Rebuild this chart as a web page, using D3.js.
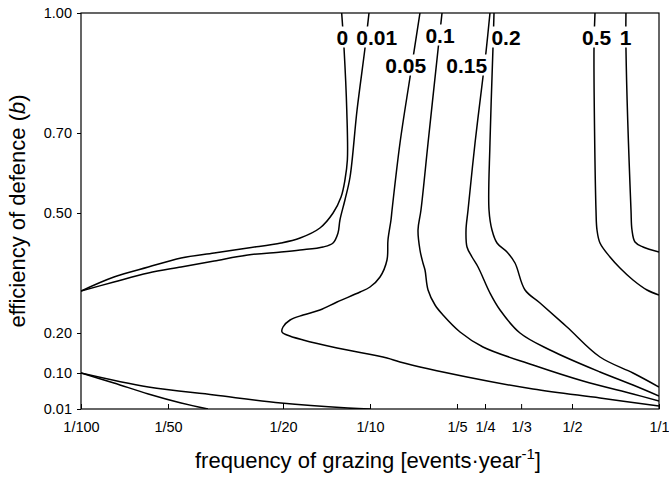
<!DOCTYPE html>
<html><head><meta charset="utf-8">
<script src="https://cdn.jsdelivr.net/npm/d3@7"></script>
<style>
html,body{margin:0;padding:0;background:#fff;}
svg{display:block;font-family:"Liberation Sans",Arial,sans-serif;}
</style></head>
<body><svg id="chart" width="669" height="483"></svg>
<script>
// ---- data (frequency of grazing, efficiency of defence b) ----
const contour_0 = [[0.0798,1.0],[0.0813,0.9125],[0.0831,0.7575],[0.0835,0.6325],[0.0819,0.5825],[0.0794,0.54],[0.0745,0.50],[0.0671,0.4625],[0.0573,0.4375],[0.0492,0.425],[0.0378,0.4125],[0.0289,0.40],[0.0222,0.3875],[0.0171,0.365],[0.0130,0.34],[0.0100,0.305]];
const contour_0_low = [[0.0100,0.10],[0.0130,0.075],[0.0171,0.0475],[0.0222,0.025],[0.0275,0.01]];
const contour_0_01 = [[0.0992,1.0],[0.0961,0.9125],[0.0902,0.7575],[0.0853,0.59],[0.0819,0.5325],[0.0787,0.4825],[0.0775,0.45],[0.0745,0.425],[0.0688,0.415],[0.0573,0.4075],[0.0492,0.4025],[0.0378,0.395],[0.0289,0.38],[0.0222,0.365],[0.0171,0.35],[0.0130,0.3275],[0.0100,0.305]];
const contour_0_01_low = [[0.0100,0.10],[0.0171,0.065],[0.0289,0.045],[0.0492,0.025],[0.0839,0.0125],[0.1000,0.01]];
const contour_0_05 = [[0.1489,1.0],[0.1376,0.84],[0.1270,0.675],[0.1192,0.5075],[0.1182,0.4825],[0.1154,0.4325],[0.1145,0.3825],[0.1083,0.34],[0.1000,0.315],[0.0924,0.3025],[0.0769,0.2775],[0.0671,0.2575],[0.0587,0.245],[0.0529,0.2325],[0.0500,0.215],[0.0496,0.2025],[0.0516,0.195],[0.0587,0.1825],[0.0769,0.1625],[0.1145,0.1375],[0.1270,0.1275],[0.2166,0.09],[0.3664,0.06],[0.6249,0.0375],[1.0,0.0175]];
const contour_0_1 = [[0.1775,1.0],[0.1719,0.9075],[0.1588,0.675],[0.1501,0.5075],[0.1466,0.4575],[0.1489,0.4075],[0.1525,0.375],[0.1550,0.3575],[0.1588,0.3075],[0.1679,0.27],[0.1789,0.245],[0.2049,0.2025],[0.2460,0.165],[0.3664,0.12],[0.5458,0.08],[0.8128,0.0475],[1.0,0.03]];
const contour_0_15 = [[0.2601,1.0],[0.2520,0.9025],[0.2460,0.84],[0.2309,0.675],[0.2184,0.5075],[0.2149,0.4575],[0.2166,0.415],[0.2254,0.39],[0.2365,0.365],[0.2601,0.30],[0.2818,0.2575],[0.3304,0.20],[0.4196,0.1575],[0.6249,0.1025],[0.8128,0.07],[1.0,0.0425]];
const contour_0_2 = [[0.2686,1.0],[0.2664,0.9125],[0.2601,0.675],[0.2581,0.5075],[0.2643,0.4575],[0.2751,0.425],[0.2979,0.4025],[0.3175,0.375],[0.3439,0.3075],[0.3875,0.275],[0.4805,0.215],[0.6249,0.14],[0.8128,0.10],[1.0,0.065]];
const contour_0_5 = [[0.6005,1.0],[0.5958,0.9125],[0.6053,0.5075],[0.6102,0.4575],[0.6249,0.425],[0.6767,0.39],[0.7328,0.3625],[0.8128,0.3325],[0.9089,0.3075],[1.0,0.295]];
const contour_1 = [[0.7685,1.0],[0.7685,0.9125],[0.8000,0.5075],[0.8064,0.4575],[0.8260,0.4275],[0.8802,0.415],[1.0,0.4025]];

const contourLabels = ["0","0.01","0.05","0.1","0.15","0.2","0.5","1"];
const labelFreq = [0.0803,0.1055,0.1329,0.1747,0.2161,0.2955,0.6087,0.7668];
const labelB    = [0.94,0.94,0.87,0.945,0.87,0.94,0.94,0.94];

const xTickValues = [0.01,0.02,0.05,0.1,0.2,0.25,1/3,0.5,1];
const xTickLabels = ["1/100","1/50","1/20","1/10","1/5","1/4","1/3","1/2","1/1"];
const yTickValues = [0.01,0.10,0.20,0.50,0.70,1.00];

// ---- drawing ----
const svg = d3.select("#chart");
const L = 81, R = 659, T = 13, B = 409;
const x = d3.scaleLog().domain([0.01,1]).range([L,R]);
const y = d3.scaleLinear().domain([0.01,1]).range([B,T]);

svg.append("defs").append("clipPath").attr("id","clip")
  .append("rect").attr("x",L).attr("y",T).attr("width",R-L).attr("height",B-T);

const line = d3.line().x(d=>x(d[0])).y(d=>y(d[1])).curve(d3.curveCatmullRom.alpha(0.5));
const allLines = [contour_0,contour_0_low,contour_0_01,contour_0_01_low,contour_0_05,contour_0_1,contour_0_15,contour_0_2,contour_0_5,contour_1];
svg.append("g").attr("clip-path","url(#clip)")
  .selectAll("path").data(allLines).join("path")
  .attr("d",line).attr("fill","none").attr("stroke","#000").attr("stroke-width",1.5);

// contour labels with white background boxes
const lg = svg.append("g");
contourLabels.forEach((t,i)=>{
  const g = lg.append("g");
  const txt = g.append("text").attr("x",x(labelFreq[i])).attr("y",y(labelB[i]))
    .attr("text-anchor","middle").attr("dominant-baseline","central")
    .attr("font-size",21).attr("font-weight","bold").text(t);
  const bb = txt.node().getBBox();
  g.insert("rect","text").attr("x",bb.x-1).attr("y",bb.y+1).attr("width",bb.width+2).attr("height",bb.height-2).attr("fill","#fff");
});

// axes
const xAxis = d3.axisBottom(x).tickValues(xTickValues).tickFormat((d,i)=>xTickLabels[i])
  .tickSizeInner(-5).tickSizeOuter(0).tickPadding(13);
const gx = svg.append("g").attr("transform",`translate(0,${B})`).call(xAxis);
gx.select(".domain").remove();
gx.selectAll("text").attr("font-size",14.5).attr("font-family","'Liberation Sans',Arial,sans-serif").attr("fill","#000");
gx.selectAll("line").attr("stroke","#000");

const yAxis = d3.axisLeft(y).tickValues(yTickValues).tickFormat(d3.format(".2f"))
  .tickSizeInner(4).tickSizeOuter(0).tickPadding(5);
const gy = svg.append("g").attr("transform",`translate(${L},0)`).call(yAxis);
gy.select(".domain").remove();
gy.selectAll("text").attr("font-size",14.5).attr("font-family","'Liberation Sans',Arial,sans-serif").attr("fill","#000");
gy.selectAll("line").attr("stroke","#000");

// frame
svg.append("rect").attr("x",L).attr("y",T).attr("width",R-L).attr("height",B-T)
  .attr("fill","none").attr("stroke","#000").attr("stroke-width",1.2);

// axis titles
const xt = svg.append("text").attr("x",368).attr("y",468).attr("text-anchor","middle").attr("font-size",22);
xt.append("tspan").text("frequency of grazing [events·year");
xt.append("tspan").attr("dy",-9).attr("font-size",15).text("-1");
xt.append("tspan").attr("dy",9).text("]");

const yt = svg.append("text").attr("transform","translate(25,211) rotate(-90)").attr("text-anchor","middle").attr("font-size",22);
yt.append("tspan").text("efficiency of defence (");
yt.append("tspan").attr("font-style","italic").text("b");
yt.append("tspan").text(")");
</script>
</body></html>
